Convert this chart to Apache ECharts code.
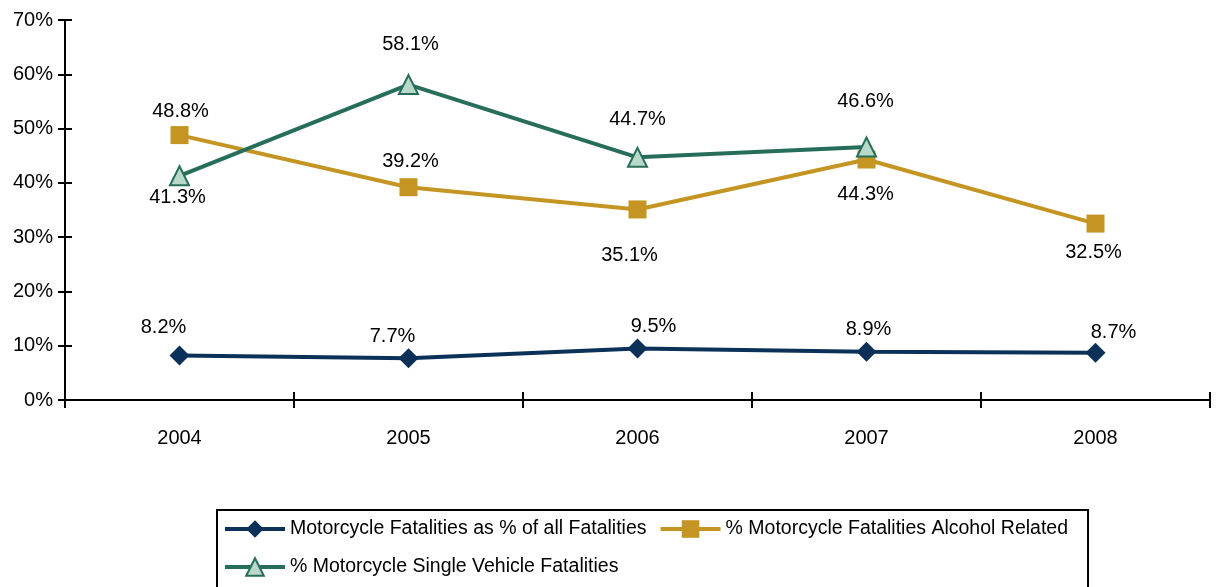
<!DOCTYPE html>
<html>
<head>
<meta charset="utf-8">
<script src="https://cdn.jsdelivr.net/npm/echarts@6/dist/echarts.min.js"></script>
<style>
  html, body { margin: 0; padding: 0; background: #fff; }
  #chart { width: 1217px; height: 587px; }
</style>
</head>
<body>
<div id="chart"></div>
<script>
var years = ['2004', '2005', '2006', '2007', '2008']
var pctOfAll = [8.2, 7.7, 9.5, 8.9, 8.7]
var alcohol = [48.8, 39.2, 35.1, 44.3, 32.5]
var singleVehicle = [41.3, 58.1, 44.7, 46.6, null]

// label offsets from the marker centre (px)
var offAll = [[-16, -28], [-16, -22], [16, -22], [2, -22], [18, -20]]
var offAlcohol = [[1, -24], [2, -26], [-8, 46], [-1, 35], [-2, 29]]
var offSingle = [[-2, 22], [2, -40], [0, -38], [-1, -46], [0, 0]]

var font = 'Liberation Sans, Arial, sans-serif'

function withLabels(values, offsets) {
  return values.map(function (v, i) {
    return {
      value: v,
      label: { offset: offsets[i] },
    }
  })
}

var chart = echarts.init(document.getElementById('chart'), null, { renderer: 'canvas' })

function lineSeries(name, values, offsets, color, symbol, symbolSize, fill) {
  return {
    name: name,
    type: 'line',
    data: withLabels(values, offsets),
    symbol: symbol,
    symbolSize: symbolSize,
    showAllSymbol: true,
    lineStyle: { color: color, width: 4 },
    itemStyle: {
      color: fill || color,
      borderColor: color,
      borderWidth: fill ? 2 : 0,
    },
    label: {
      show: true,
      position: 'inside',
      color: '#000',
      fontSize: 20,
      fontFamily: font,
      formatter: function (p) {
        return p.value == null ? '' : p.value.toFixed(1) + '%'
      },
    },
    emphasis: { disabled: true },
    animation: false,
  }
}

var tickStyle = { color: '#000', width: 2 }

chart.setOption({
  backgroundColor: '#fff',
  grid: { left: 65, right: 7, top: 20, bottom: 187 },
  legend: {
    left: 217,
    top: 510,
    width: 880,
    padding: [6, 20, 40, 6],
    borderColor: '#000',
    borderWidth: 2,
    itemWidth: 60,
    itemHeight: 22,
    itemGap: 12,
    lineStyle: { width: 4 },
    textStyle: { color: '#000', fontSize: 19.5, lineHeight: 26, fontFamily: font },
    data: [
      'Motorcycle Fatalities as % of all Fatalities',
      '% Motorcycle Fatalities Alcohol Related',
      '% Motorcycle Single Vehicle Fatalities',
    ],
  },
  xAxis: [
    {
      type: 'category',
      data: years,
      boundaryGap: true,
      axisLine: { lineStyle: { color: '#000', width: 2 } },
      axisTick: { show: true, length: 8, lineStyle: tickStyle },
      axisLabel: { color: '#000', fontSize: 20, fontFamily: font, margin: 28 },
      splitLine: { show: false },
    },
    {
      // inner half of the crossing ticks
      type: 'category',
      data: years,
      position: 'bottom',
      boundaryGap: true,
      axisLine: { show: false },
      axisTick: { show: true, inside: true, length: 8, lineStyle: tickStyle },
      axisLabel: { show: false },
      splitLine: { show: false },
    },
  ],
  yAxis: [
    {
      type: 'value',
      min: 0,
      max: 70,
      interval: 10,
      axisLine: { show: true, lineStyle: { color: '#000', width: 2 } },
      axisTick: { show: true, length: 7, lineStyle: tickStyle },
      axisLabel: { color: '#000', fontSize: 20, fontFamily: font, margin: 12, formatter: '{value}%' },
      splitLine: { show: false },
    },
    {
      type: 'value',
      position: 'left',
      min: 0,
      max: 70,
      interval: 10,
      axisLine: { show: false },
      axisTick: { show: true, inside: true, length: 7, lineStyle: tickStyle },
      axisLabel: { show: false },
      splitLine: { show: false },
    },
  ],
  series: [
    lineSeries('Motorcycle Fatalities as % of all Fatalities', pctOfAll, offAll, '#0c3158', 'diamond', 20),
    lineSeries('% Motorcycle Fatalities Alcohol Related', alcohol, offAlcohol, '#c49522', 'rect', 18),
    lineSeries('% Motorcycle Single Vehicle Fatalities', singleVehicle, offSingle, '#276e5a', 'triangle', 19, '#b8d9c9'),
  ],
})
</script>
</body>
</html>
